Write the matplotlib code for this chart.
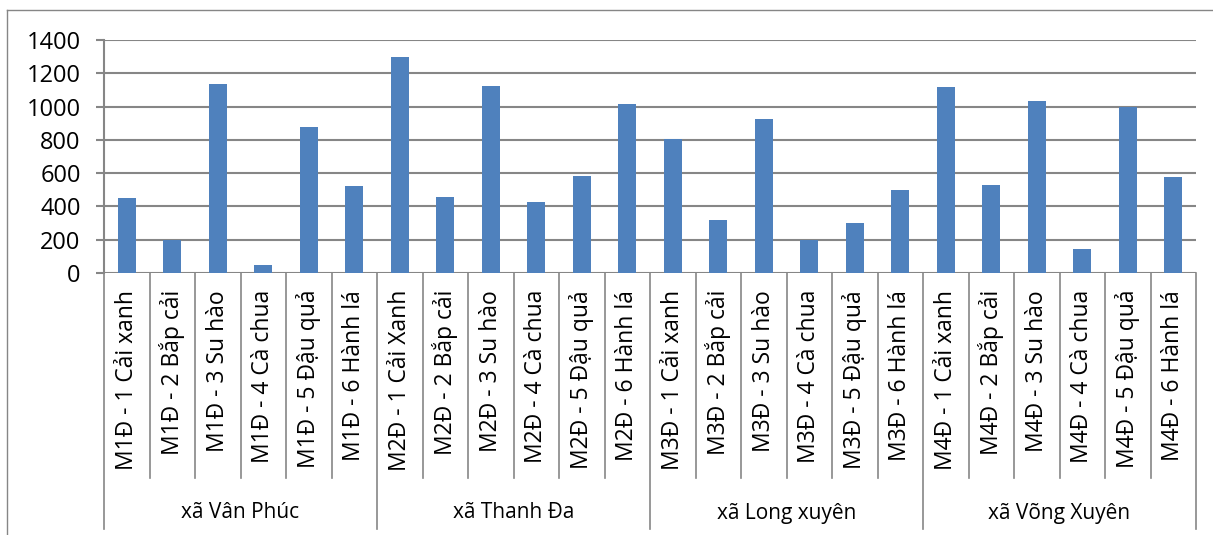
import matplotlib.pyplot as plt
from matplotlib.lines import Line2D
from matplotlib.transforms import blended_transform_factory

plt.rcParams['font.family'] = ['Open Sans', 'DejaVu Sans']

communes = ["xã Vân Phúc", "xã Thanh Đa", "xã Long xuyên", "xã Võng Xuyên"]

labels_van_phuc = ["M1Đ - 1 Cải xanh", "M1Đ - 2 Bắp cải", "M1Đ - 3 Su hào",
                   "M1Đ - 4 Cà chua", "M1Đ - 5 Đậu quả", "M1Đ - 6 Hành lá"]
labels_thanh_da = ["M2Đ - 1 Cải Xanh", "M2Đ - 2 Bắp cải", "M2Đ - 3 Su hào",
                   "M2Đ - 4 Cà chua", "M2Đ - 5 Đậu quả", "M2Đ - 6 Hành lá"]
labels_long_xuyen = ["M3Đ - 1 Cải xanh", "M3Đ - 2 Bắp cải", "M3Đ - 3 Su hào",
                     "M3Đ - 4 Cà chua", "M3Đ - 5 Đậu quả", "M3Đ - 6 Hành lá"]
labels_vong_xuyen = ["M4Đ - 1 Cải xanh", "M4Đ - 2 Bắp cải", "M4Đ - 3 Su hào",
                     "M4Đ - 4 Cà chua", "M4Đ - 5 Đậu quả", "M4Đ - 6 Hành lá"]

values_van_phuc = [450, 200, 1135, 50, 875, 525]
values_thanh_da = [1300, 455, 1125, 425, 580, 1015]
values_long_xuyen = [805, 320, 925, 200, 300, 500]
values_vong_xuyen = [1120, 530, 1035, 145, 1000, 575]

yticks = [0, 200, 400, 600, 800, 1000, 1200, 1400]

labels = labels_van_phuc + labels_thanh_da + labels_long_xuyen + labels_vong_xuyen
values = values_van_phuc + values_thanh_da + values_long_xuyen + values_vong_xuyen
group_size = len(labels_van_phuc)

W, H = 1213, 535
fig = plt.figure(figsize=(W / 100, H / 100), dpi=100)

def fx(px):
    return px / W

def fy(py):
    return 1 - py / H

grey = '#868686'
ax = fig.add_axes([fx(104), fy(273), fx(1196) - fx(104), fy(40) - fy(273)])

x = list(range(len(values)))
ax.bar(x, values, width=0.4, color='#4F81BD', zorder=3)

ax.set_xlim(-0.5, len(values) - 0.5)
ax.set_ylim(0, 1400)
ax.set_yticks(yticks)
ax.yaxis.grid(True, color=grey, linewidth=1.5, zorder=0)
ax.tick_params(axis='y', direction='out', length=5.8, width=1.5, color=grey,
               pad=11, labelsize=17)
ax.set_xticks([])
for side in ['top', 'right', 'bottom']:
    ax.spines[side].set_visible(False)
ax.spines['left'].set_color(grey)
ax.spines['left'].set_linewidth(1.5)

# category axis: separators, rotated labels, commune names
tr = blended_transform_factory(ax.transData, fig.transFigure)
for k in range(len(values) + 1):
    xb = k - 0.5
    bottom = 529 if k % group_size == 0 else 478
    ax.add_line(Line2D([xb, xb], [fy(273), fy(bottom)], transform=tr,
                       color=grey, linewidth=1.2, clip_on=False))

for xi, lab in zip(x, labels):
    ax.text(xi, fy(290), lab, transform=tr, rotation=90, ha='center', va='top',
            fontsize=16.5)

for g, name in enumerate(communes):
    xc = g * group_size + (group_size - 1) / 2
    ax.text(xc, fy(513), name, transform=tr, ha='center', va='center', fontsize=15)

# chart frame
fig.add_artist(Line2D([fx(7), fx(7)], [fy(10), 0], color=grey, linewidth=1.0))
fig.add_artist(Line2D([fx(7), 1], [fy(10), fy(10)], color=grey, linewidth=1.0))

fig.savefig('out.png', dpi=100)
